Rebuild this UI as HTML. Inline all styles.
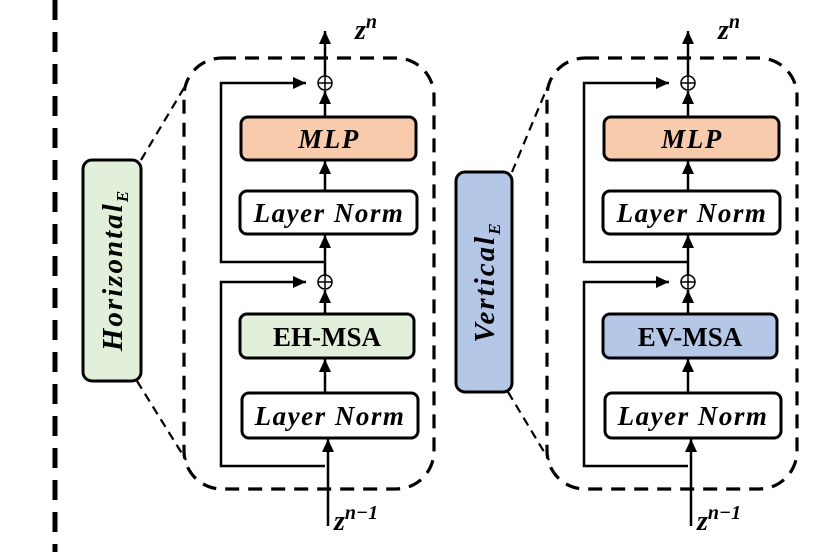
<!DOCTYPE html>
<html><head><style>body{margin:0;background:#fff}svg{display:block}</style></head><body>
<svg width="814" height="559" viewBox="0 0 814 559" xmlns="http://www.w3.org/2000/svg" font-family="Liberation Serif, serif">
<defs>
<marker id="b" markerWidth="14" markerHeight="14" refX="13" refY="6" orient="auto" markerUnits="userSpaceOnUse"><path d="M0,0 L13,6 L0,12 z" fill="#000"/></marker>
</defs>
<line x1="55" y1="0" x2="55" y2="552" stroke="#000" stroke-width="5" stroke-dasharray="20,12"/>

<g>
<line x1="141" y1="160" x2="184" y2="88" stroke="#000" stroke-width="2.2" stroke-dasharray="9,6"/>
<line x1="137" y1="381" x2="186" y2="460" stroke="#000" stroke-width="2.2" stroke-dasharray="9,6"/>
<rect x="184" y="58" width="250" height="431" rx="38" fill="none" stroke="#000" stroke-width="3.2" stroke-dasharray="14,9"/>
<rect x="83" y="160" width="58" height="221" rx="9" fill="#e2efda" stroke="#000" stroke-width="3"/>
<text transform="translate(122,270) rotate(-90)" text-anchor="middle" font-size="29" font-weight="bold" font-style="italic" letter-spacing="2">Horizontal<tspan font-size="17" dy="6">E</tspan></text>
<g id="col">
<line x1="325" y1="76" x2="325" y2="31" stroke="#000" stroke-width="2.5" marker-end="url(#b)"/>
<text x="355" y="39" font-size="28" font-weight="bold" font-style="italic">z<tspan font-size="20" dy="-11">n</tspan></text>
<circle cx="325" cy="83" r="7" fill="#fff" stroke="#000" stroke-width="1.5"/>
<line x1="318" y1="83" x2="332" y2="83" stroke="#000" stroke-width="1.5"/><line x1="325" y1="76" x2="325" y2="90" stroke="#000" stroke-width="1.5"/>
<polyline points="325,262 221,262 221,83 306,83" fill="none" stroke="#000" stroke-width="2.5" marker-end="url(#b)"/>
<line x1="325" y1="117" x2="325" y2="91" stroke="#000" stroke-width="2.5" marker-end="url(#b)"/>
<rect x="241" y="117" width="175" height="43" rx="7" fill="#f8cbad" stroke="#000" stroke-width="3"/>
<text x="329" y="148" text-anchor="middle" font-size="27" font-weight="bold" font-style="italic" letter-spacing="1.5">MLP</text>
<line x1="325" y1="191" x2="325" y2="161" stroke="#000" stroke-width="2.5" marker-end="url(#b)"/>
<rect x="240" y="191" width="177" height="43" rx="7" fill="#fff" stroke="#000" stroke-width="3"/>
<text x="329" y="222" text-anchor="middle" font-size="27" font-weight="bold" font-style="italic" letter-spacing="1.5">Layer Norm</text>
<line x1="325" y1="275" x2="325" y2="235" stroke="#000" stroke-width="2.5" marker-end="url(#b)"/>
<circle cx="325" cy="282" r="7" fill="#fff" stroke="#000" stroke-width="1.5"/>
<line x1="318" y1="282" x2="332" y2="282" stroke="#000" stroke-width="1.5"/><line x1="325" y1="275" x2="325" y2="289" stroke="#000" stroke-width="1.5"/>
<polyline points="325,466 221,466 221,282 306,282" fill="none" stroke="#000" stroke-width="2.5" marker-end="url(#b)"/>
<line x1="325" y1="314" x2="325" y2="290" stroke="#000" stroke-width="2.5" marker-end="url(#b)"/>
<line x1="325" y1="393" x2="325" y2="359" stroke="#000" stroke-width="2.5" marker-end="url(#b)"/>
<rect x="242" y="393" width="176" height="45" rx="7" fill="#fff" stroke="#000" stroke-width="3"/>
<text x="330" y="425" text-anchor="middle" font-size="27" font-weight="bold" font-style="italic" letter-spacing="1.5">Layer Norm</text>
<line x1="328" y1="526" x2="328" y2="439" stroke="#000" stroke-width="2.5" marker-end="url(#b)"/>
<text x="334" y="530" font-size="28" font-weight="bold" font-style="italic">z<tspan font-size="20" dy="-11">n−1</tspan></text>
</g>
<rect x="240" y="314" width="174" height="44" rx="7" fill="#e2efda" stroke="#000" stroke-width="3"/>
<text x="327" y="346" text-anchor="middle" font-size="27" font-weight="bold">EH-MSA</text>
</g>

<g>
<line x1="512" y1="172" x2="547" y2="88" stroke="#000" stroke-width="2.2" stroke-dasharray="9,6"/>
<line x1="508" y1="392" x2="549" y2="460" stroke="#000" stroke-width="2.2" stroke-dasharray="9,6"/>
<rect x="547" y="58" width="250" height="431" rx="38" fill="none" stroke="#000" stroke-width="3.2" stroke-dasharray="14,9"/>
<rect x="456" y="172" width="56" height="220" rx="9" fill="#b4c7e7" stroke="#000" stroke-width="3"/>
<text transform="translate(494,282) rotate(-90)" text-anchor="middle" font-size="29" font-weight="bold" font-style="italic" letter-spacing="2">Vertical<tspan font-size="17" dy="6">E</tspan></text>
<use href="#col" transform="translate(363,0)"/>
<g transform="translate(363,0)">
<rect x="240" y="314" width="174" height="44" rx="7" fill="#b4c7e7" stroke="#000" stroke-width="3"/>
<text x="327" y="346" text-anchor="middle" font-size="27" font-weight="bold">EV-MSA</text>
</g>
</g>
</svg>
</body></html>
